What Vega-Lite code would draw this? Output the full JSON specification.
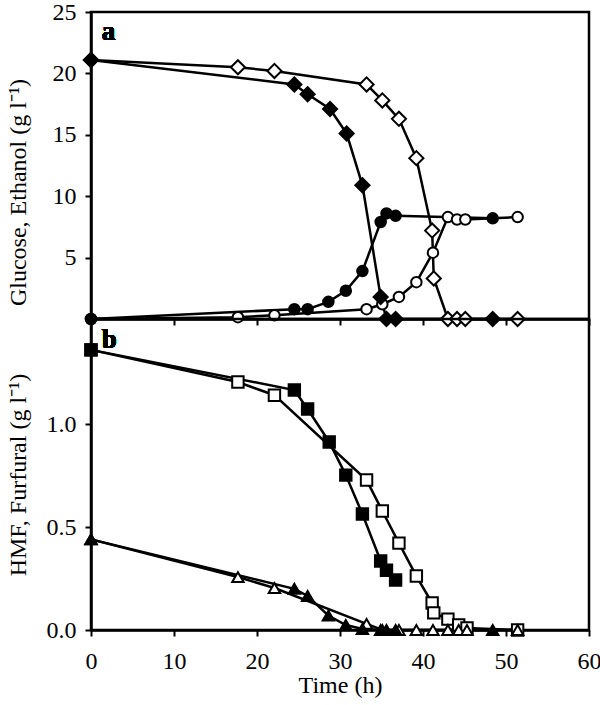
{
  "$schema": "https://vega.github.io/schema/vega-lite/v6.json",
  "background": "white",
  "padding": {"top": -2, "left": 4, "right": 5, "bottom": 5},
  "datasets": {
    "a": [
      {"compound": "Glucose", "culture": "A", "t": 0, "v": 21.1},
      {"compound": "Glucose", "culture": "A", "t": 24.5, "v": 19.1},
      {"compound": "Glucose", "culture": "A", "t": 26.1, "v": 18.3},
      {"compound": "Glucose", "culture": "A", "t": 28.8, "v": 17.1},
      {"compound": "Glucose", "culture": "A", "t": 30.8, "v": 15.1},
      {"compound": "Glucose", "culture": "A", "t": 32.7, "v": 10.9},
      {"compound": "Glucose", "culture": "A", "t": 34.9, "v": 1.8},
      {"compound": "Glucose", "culture": "A", "t": 35.6, "v": 0},
      {"compound": "Glucose", "culture": "A", "t": 36.7, "v": 0},
      {"compound": "Glucose", "culture": "A", "t": 48.4, "v": 0},
      {"compound": "Glucose", "culture": "B", "t": 0, "v": 21.1},
      {"compound": "Glucose", "culture": "B", "t": 17.7, "v": 20.5},
      {"compound": "Glucose", "culture": "B", "t": 22.1, "v": 20.2},
      {"compound": "Glucose", "culture": "B", "t": 33.2, "v": 19.1},
      {"compound": "Glucose", "culture": "B", "t": 35.1, "v": 17.8},
      {"compound": "Glucose", "culture": "B", "t": 37.1, "v": 16.3},
      {"compound": "Glucose", "culture": "B", "t": 39.2, "v": 13.1},
      {"compound": "Glucose", "culture": "B", "t": 41.1, "v": 7.2},
      {"compound": "Glucose", "culture": "B", "t": 41.3, "v": 3.3},
      {"compound": "Glucose", "culture": "B", "t": 43.0, "v": 0},
      {"compound": "Glucose", "culture": "B", "t": 44.1, "v": 0},
      {"compound": "Glucose", "culture": "B", "t": 45.1, "v": 0},
      {"compound": "Glucose", "culture": "B", "t": 51.4, "v": 0},
      {"compound": "Ethanol", "culture": "A", "t": 0, "v": 0},
      {"compound": "Ethanol", "culture": "A", "t": 24.5, "v": 0.8},
      {"compound": "Ethanol", "culture": "A", "t": 26.1, "v": 0.8},
      {"compound": "Ethanol", "culture": "A", "t": 28.6, "v": 1.4},
      {"compound": "Ethanol", "culture": "A", "t": 30.7, "v": 2.3},
      {"compound": "Ethanol", "culture": "A", "t": 32.7, "v": 3.9},
      {"compound": "Ethanol", "culture": "A", "t": 34.9, "v": 7.9},
      {"compound": "Ethanol", "culture": "A", "t": 35.6, "v": 8.6},
      {"compound": "Ethanol", "culture": "A", "t": 36.7, "v": 8.4},
      {"compound": "Ethanol", "culture": "A", "t": 48.4, "v": 8.2},
      {"compound": "Ethanol", "culture": "B", "t": 0, "v": 0},
      {"compound": "Ethanol", "culture": "B", "t": 17.7, "v": 0.15},
      {"compound": "Ethanol", "culture": "B", "t": 22.1, "v": 0.3},
      {"compound": "Ethanol", "culture": "B", "t": 33.2, "v": 0.8},
      {"compound": "Ethanol", "culture": "B", "t": 35.1, "v": 1.2},
      {"compound": "Ethanol", "culture": "B", "t": 37.1, "v": 1.8},
      {"compound": "Ethanol", "culture": "B", "t": 39.2, "v": 3.0},
      {"compound": "Ethanol", "culture": "B", "t": 41.2, "v": 5.4},
      {"compound": "Ethanol", "culture": "B", "t": 43.0, "v": 8.3},
      {"compound": "Ethanol", "culture": "B", "t": 44.1, "v": 8.1},
      {"compound": "Ethanol", "culture": "B", "t": 45.1, "v": 8.1},
      {"compound": "Ethanol", "culture": "B", "t": 51.4, "v": 8.3}
    ],
    "b": [
      {"compound": "HMF", "culture": "A", "t": 0, "v": 1.36},
      {"compound": "HMF", "culture": "A", "t": 24.5, "v": 1.165},
      {"compound": "HMF", "culture": "A", "t": 26.1, "v": 1.073},
      {"compound": "HMF", "culture": "A", "t": 28.7, "v": 0.913},
      {"compound": "HMF", "culture": "A", "t": 30.7, "v": 0.752},
      {"compound": "HMF", "culture": "A", "t": 32.7, "v": 0.563},
      {"compound": "HMF", "culture": "A", "t": 34.9, "v": 0.335},
      {"compound": "HMF", "culture": "A", "t": 35.6, "v": 0.29},
      {"compound": "HMF", "culture": "A", "t": 36.7, "v": 0.243},
      {"compound": "HMF", "culture": "B", "t": 0, "v": 1.36},
      {"compound": "HMF", "culture": "B", "t": 17.7, "v": 1.204},
      {"compound": "HMF", "culture": "B", "t": 22.1, "v": 1.14},
      {"compound": "HMF", "culture": "B", "t": 33.2, "v": 0.728},
      {"compound": "HMF", "culture": "B", "t": 35.1, "v": 0.578},
      {"compound": "HMF", "culture": "B", "t": 37.1, "v": 0.422},
      {"compound": "HMF", "culture": "B", "t": 39.2, "v": 0.262},
      {"compound": "HMF", "culture": "B", "t": 41.1, "v": 0.131},
      {"compound": "HMF", "culture": "B", "t": 41.3, "v": 0.083},
      {"compound": "HMF", "culture": "B", "t": 43.0, "v": 0.053},
      {"compound": "HMF", "culture": "B", "t": 44.3, "v": 0.024},
      {"compound": "HMF", "culture": "B", "t": 45.3, "v": 0.01},
      {"compound": "HMF", "culture": "B", "t": 51.4, "v": 0},
      {"compound": "Furfural", "culture": "A", "t": 0, "v": 0.44},
      {"compound": "Furfural", "culture": "A", "t": 24.5, "v": 0.2},
      {"compound": "Furfural", "culture": "A", "t": 26.1, "v": 0.165},
      {"compound": "Furfural", "culture": "A", "t": 28.6, "v": 0.07},
      {"compound": "Furfural", "culture": "A", "t": 30.7, "v": 0.024},
      {"compound": "Furfural", "culture": "A", "t": 32.7, "v": 0.005},
      {"compound": "Furfural", "culture": "A", "t": 34.9, "v": 0},
      {"compound": "Furfural", "culture": "A", "t": 35.6, "v": 0},
      {"compound": "Furfural", "culture": "A", "t": 36.7, "v": 0},
      {"compound": "Furfural", "culture": "A", "t": 48.4, "v": 0},
      {"compound": "Furfural", "culture": "B", "t": 0, "v": 0.44},
      {"compound": "Furfural", "culture": "B", "t": 17.7, "v": 0.257},
      {"compound": "Furfural", "culture": "B", "t": 22.1, "v": 0.204},
      {"compound": "Furfural", "culture": "B", "t": 33.2, "v": 0.03},
      {"compound": "Furfural", "culture": "B", "t": 35.1, "v": 0},
      {"compound": "Furfural", "culture": "B", "t": 37.1, "v": 0},
      {"compound": "Furfural", "culture": "B", "t": 39.2, "v": 0},
      {"compound": "Furfural", "culture": "B", "t": 41.2, "v": 0},
      {"compound": "Furfural", "culture": "B", "t": 43.0, "v": 0},
      {"compound": "Furfural", "culture": "B", "t": 44.3, "v": 0},
      {"compound": "Furfural", "culture": "B", "t": 45.3, "v": 0},
      {"compound": "Furfural", "culture": "B", "t": 51.4, "v": 0}
    ]
  },
  "vconcat": [
    {
      "width": 498,
      "height": 307,
      "data": {"name": "a"},
      "layer": [
        {
          "mark": {"type": "line", "stroke": "black", "strokeWidth": 2.5, "clip": false},
          "encoding": {
            "x": {"field": "t", "type": "quantitative", "scale": {"domain": [0, 60], "nice": false},
                  "axis": {"title": null, "labels": false, "values": [0, 10, 20, 30, 40, 50, 60]}},
            "y": {"field": "v", "type": "quantitative", "scale": {"domain": [0, 25], "nice": false},
                  "axis": {"title": "Glucose, Ethanol (g l⁻¹)", "values": [5, 10, 15, 20, 25], "titleX": -61, "titleY": 180}},
            "detail": [{"field": "compound"}, {"field": "culture"}]
          }
        },
        {
          "mark": {"type": "point", "filled": true, "stroke": "black", "strokeWidth": 2, "opacity": 1, "clip": false},
          "encoding": {
            "x": {"field": "t", "type": "quantitative"},
            "y": {"field": "v", "type": "quantitative"},
            "order": {"field": "culture", "sort": "descending"},
            "shape": {"field": "compound", "type": "nominal", "legend": null,
                      "scale": {"domain": ["Glucose", "Ethanol"], "range": ["diamond", "circle"]}},
            "size": {"field": "compound", "type": "nominal", "legend": null,
                     "scale": {"domain": ["Glucose", "Ethanol"], "range": [200, 110]}},
            "fill": {"field": "culture", "type": "nominal", "legend": null,
                     "scale": {"domain": ["A", "B"], "range": ["black", "white"]}}
          }
        },
        {
          "mark": {"type": "text", "text": "a", "font": "Liberation Serif", "fontSize": 27, "fontWeight": "bold", "align": "left", "baseline": "alphabetic", "color": "black"},
          "encoding": {
            "x": {"datum": 1.3},
            "y": {"datum": 22.7}
          }
        }
      ]
    },
    {
      "width": 498,
      "height": 311,
      "data": {"name": "b"},
      "layer": [
        {
          "mark": {"type": "line", "stroke": "black", "strokeWidth": 2.5, "clip": false},
          "encoding": {
            "x": {"field": "t", "type": "quantitative", "scale": {"domain": [0, 60], "nice": false},
                  "axis": {"title": "Time (h)", "values": [0, 10, 20, 30, 40, 50, 60], "titlePadding": 0, "labelPadding": 13}},
            "y": {"field": "v", "type": "quantitative", "scale": {"domain": [0, 1.51], "nice": false},
                  "axis": {"title": "HMF, Furfural (g l⁻¹)", "values": [0, 0.5, 1.0], "format": ".1f", "titleX": -61}},
            "detail": [{"field": "compound"}, {"field": "culture"}]
          }
        },
        {
          "mark": {"type": "point", "filled": true, "stroke": "black", "strokeWidth": 2, "opacity": 1, "clip": false},
          "encoding": {
            "x": {"field": "t", "type": "quantitative"},
            "y": {"field": "v", "type": "quantitative"},
            "order": {"field": "culture", "sort": "descending"},
            "shape": {"field": "compound", "type": "nominal", "legend": null,
                      "scale": {"domain": ["HMF", "Furfural"], "range": ["square", "triangle-up"]}},
            "size": {"field": "compound", "type": "nominal", "legend": null,
                     "scale": {"domain": ["HMF", "Furfural"], "range": [130, 130]}},
            "fill": {"field": "culture", "type": "nominal", "legend": null,
                     "scale": {"domain": ["A", "B"], "range": ["black", "white"]}}
          }
        },
        {
          "mark": {"type": "text", "text": "b", "font": "Liberation Serif", "fontSize": 27, "fontWeight": "bold", "align": "left", "baseline": "alphabetic", "color": "black"},
          "encoding": {
            "x": {"datum": 1.3},
            "y": {"datum": 1.37}
          }
        }
      ]
    }
  ],
  "spacing": 0,
  "bounds": "flush",
  "resolve": {"scale": {"shape": "independent", "size": "independent", "fill": "independent"}},
  "config": {
    "view": {"stroke": "black", "strokeWidth": 2.5},
    "axis": {
      "grid": false,
      "domainColor": "black",
      "domainWidth": 2.5,
      "tickColor": "black",
      "tickWidth": 2,
      "tickSize": 6,
      "labelFont": "Liberation Serif",
      "labelFontSize": 24,
      "labelColor": "black",
      "labelPadding": 9,
      "labelOverlap": false,
      "labelBound": false,
      "labelFlush": false,
      "titleFont": "Liberation Serif",
      "titleFontSize": 24,
      "titleFontWeight": "normal",
      "titleColor": "black"
    }
  }
}
